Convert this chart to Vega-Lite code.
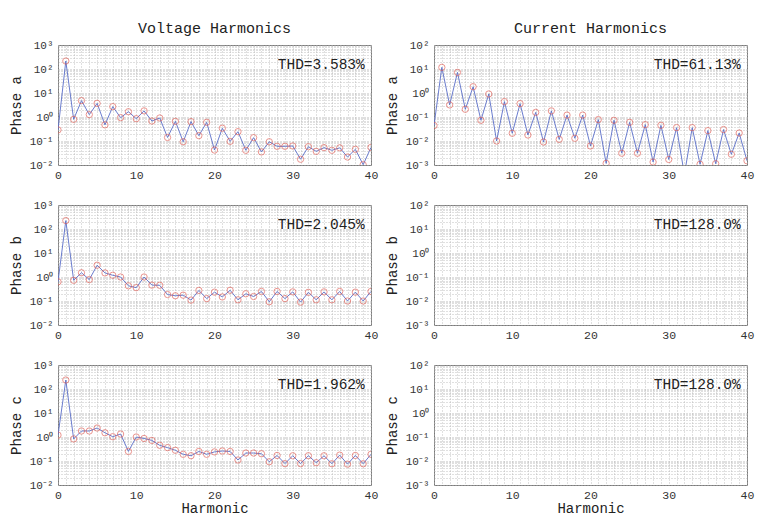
{
  "$schema": "https://vega.github.io/schema/vega-lite/v6.json",
  "background": "white",
  "padding": {"left": 8, "top": 20, "right": 8, "bottom": 8},
  "datasets": {
    "harm": [
      {"panel":"Va","h":0,"v":0.29},{"panel":"Va","h":1,"v":215},{"panel":"Va","h":2,"v":0.8},{"panel":"Va","h":3,"v":4.8},{"panel":"Va","h":4,"v":1.26},{"panel":"Va","h":5,"v":3.7},{"panel":"Va","h":6,"v":0.47},{"panel":"Va","h":7,"v":2.7},{"panel":"Va","h":8,"v":0.94},{"panel":"Va","h":9,"v":1.66},{"panel":"Va","h":10,"v":0.85},{"panel":"Va","h":11,"v":1.8},{"panel":"Va","h":12,"v":0.68},{"panel":"Va","h":13,"v":0.91},{"panel":"Va","h":14,"v":0.14},{"panel":"Va","h":15,"v":0.66},{"panel":"Va","h":16,"v":0.093},{"panel":"Va","h":17,"v":0.64},{"panel":"Va","h":18,"v":0.167},{"panel":"Va","h":19,"v":0.6},{"panel":"Va","h":20,"v":0.042},{"panel":"Va","h":21,"v":0.34},{"panel":"Va","h":22,"v":0.097},{"panel":"Va","h":23,"v":0.245},{"panel":"Va","h":24,"v":0.041},{"panel":"Va","h":25,"v":0.138},{"panel":"Va","h":26,"v":0.035},{"panel":"Va","h":27,"v":0.093},{"panel":"Va","h":28,"v":0.06},{"panel":"Va","h":29,"v":0.06},{"panel":"Va","h":30,"v":0.062},{"panel":"Va","h":31,"v":0.0174},{"panel":"Va","h":32,"v":0.058},{"panel":"Va","h":33,"v":0.037},{"panel":"Va","h":34,"v":0.053},{"panel":"Va","h":35,"v":0.041},{"panel":"Va","h":36,"v":0.052},{"panel":"Va","h":37,"v":0.0215},{"panel":"Va","h":38,"v":0.045},{"panel":"Va","h":39,"v":0.0103},{"panel":"Va","h":40,"v":0.054},
      {"panel":"Ia","h":0,"v":0.044},{"panel":"Ia","h":1,"v":11.7},{"panel":"Ia","h":2,"v":0.32},{"panel":"Ia","h":3,"v":7.2},{"panel":"Ia","h":4,"v":0.21},{"panel":"Ia","h":5,"v":1.83},{"panel":"Ia","h":6,"v":0.073},{"panel":"Ia","h":7,"v":0.91},{"panel":"Ia","h":8,"v":0.01},{"panel":"Ia","h":9,"v":0.44},{"panel":"Ia","h":10,"v":0.021},{"panel":"Ia","h":11,"v":0.36},{"panel":"Ia","h":12,"v":0.0178},{"panel":"Ia","h":13,"v":0.156},{"panel":"Ia","h":14,"v":0.0091},{"panel":"Ia","h":15,"v":0.18},{"panel":"Ia","h":16,"v":0.0117},{"panel":"Ia","h":17,"v":0.12},{"panel":"Ia","h":18,"v":0.013},{"panel":"Ia","h":19,"v":0.12},{"panel":"Ia","h":20,"v":0.0062},{"panel":"Ia","h":21,"v":0.078},{"panel":"Ia","h":22,"v":0.00117},{"panel":"Ia","h":23,"v":0.073},{"panel":"Ia","h":24,"v":0.0031},{"panel":"Ia","h":25,"v":0.06},{"panel":"Ia","h":26,"v":0.0031},{"panel":"Ia","h":27,"v":0.048},{"panel":"Ia","h":28,"v":0.00133},{"panel":"Ia","h":29,"v":0.045},{"panel":"Ia","h":30,"v":0.0017},{"panel":"Ia","h":31,"v":0.036},{"panel":"Ia","h":32,"v":0.0004},{"panel":"Ia","h":33,"v":0.036},{"panel":"Ia","h":34,"v":0.00107},{"panel":"Ia","h":35,"v":0.027},{"panel":"Ia","h":36,"v":0.00113},{"panel":"Ia","h":37,"v":0.03},{"panel":"Ia","h":38,"v":0.0028},{"panel":"Ia","h":39,"v":0.0215},{"panel":"Ia","h":40,"v":0.0015},
      {"panel":"Vb","h":0,"v":0.63},{"panel":"Vb","h":1,"v":224},{"panel":"Vb","h":2,"v":0.73},{"panel":"Vb","h":3,"v":1.5},{"panel":"Vb","h":4,"v":0.78},{"panel":"Vb","h":5,"v":3.1},{"panel":"Vb","h":6,"v":1.48},{"panel":"Vb","h":7,"v":1.18},{"panel":"Vb","h":8,"v":1.0},{"panel":"Vb","h":9,"v":0.43},{"panel":"Vb","h":10,"v":0.36},{"panel":"Vb","h":11,"v":1.0},{"panel":"Vb","h":12,"v":0.46},{"panel":"Vb","h":13,"v":0.45},{"panel":"Vb","h":14,"v":0.186},{"panel":"Vb","h":15,"v":0.165},{"panel":"Vb","h":16,"v":0.175},{"panel":"Vb","h":17,"v":0.109},{"panel":"Vb","h":18,"v":0.275},{"panel":"Vb","h":19,"v":0.126},{"panel":"Vb","h":20,"v":0.234},{"panel":"Vb","h":21,"v":0.148},{"panel":"Vb","h":22,"v":0.28},{"panel":"Vb","h":23,"v":0.112},{"panel":"Vb","h":24,"v":0.2},{"panel":"Vb","h":25,"v":0.154},{"panel":"Vb","h":26,"v":0.25},{"panel":"Vb","h":27,"v":0.093},{"panel":"Vb","h":28,"v":0.25},{"panel":"Vb","h":29,"v":0.126},{"panel":"Vb","h":30,"v":0.24},{"panel":"Vb","h":31,"v":0.09},{"panel":"Vb","h":32,"v":0.23},{"panel":"Vb","h":33,"v":0.112},{"panel":"Vb","h":34,"v":0.24},{"panel":"Vb","h":35,"v":0.112},{"panel":"Vb","h":36,"v":0.25},{"panel":"Vb","h":37,"v":0.1},{"panel":"Vb","h":38,"v":0.234},{"panel":"Vb","h":39,"v":0.1},{"panel":"Vb","h":40,"v":0.25},
      {"panel":"Vc","h":0,"v":1.2},{"panel":"Vc","h":1,"v":237},{"panel":"Vc","h":2,"v":0.83},{"panel":"Vc","h":3,"v":1.78},{"panel":"Vc","h":4,"v":1.78},{"panel":"Vc","h":5,"v":2.37},{"panel":"Vc","h":6,"v":1.5},{"panel":"Vc","h":7,"v":1.03},{"panel":"Vc","h":8,"v":1.33},{"panel":"Vc","h":9,"v":0.25},{"panel":"Vc","h":10,"v":1.0},{"panel":"Vc","h":11,"v":0.87},{"panel":"Vc","h":12,"v":0.72},{"panel":"Vc","h":13,"v":0.45},{"panel":"Vc","h":14,"v":0.36},{"panel":"Vc","h":15,"v":0.28},{"panel":"Vc","h":16,"v":0.19},{"panel":"Vc","h":17,"v":0.166},{"panel":"Vc","h":18,"v":0.25},{"panel":"Vc","h":19,"v":0.19},{"panel":"Vc","h":20,"v":0.24},{"panel":"Vc","h":21,"v":0.26},{"panel":"Vc","h":22,"v":0.25},{"panel":"Vc","h":23,"v":0.11},{"panel":"Vc","h":24,"v":0.215},{"panel":"Vc","h":25,"v":0.215},{"panel":"Vc","h":26,"v":0.2},{"panel":"Vc","h":27,"v":0.093},{"panel":"Vc","h":28,"v":0.17},{"panel":"Vc","h":29,"v":0.078},{"panel":"Vc","h":30,"v":0.165},{"panel":"Vc","h":31,"v":0.078},{"panel":"Vc","h":32,"v":0.166},{"panel":"Vc","h":33,"v":0.085},{"panel":"Vc","h":34,"v":0.165},{"panel":"Vc","h":35,"v":0.077},{"panel":"Vc","h":36,"v":0.176},{"panel":"Vc","h":37,"v":0.074},{"panel":"Vc","h":38,"v":0.17},{"panel":"Vc","h":39,"v":0.077},{"panel":"Vc","h":40,"v":0.19}
    ],
    "thd": [
      {"panel":"Va","label":"THD=3.583%"},
      {"panel":"Ia","label":"THD=61.13%"},
      {"panel":"Vb","label":"THD=2.045%"},
      {"panel":"Ib","label":"THD=128.0%"},
      {"panel":"Vc","label":"THD=1.962%"},
      {"panel":"Ic","label":"THD=128.0%"}
    ]
  },
  "bounds": "flush",
  "columns": 2,
  "spacing": {"row": 40, "column": 63},
  "concat": [
    {
      "width": 313, "height": 120,
      "title": {"text": "Voltage Harmonics"},
      "resolve": {"axis": {"x": "independent"}},
      "layer": [
        {"data": {"name": "thd"}, "transform": [{"filter": "datum.panel=='Va'"}],
         "mark": {"type": "text", "align": "right", "baseline": "middle", "font": "Liberation Mono", "fontSize": 14.5, "color": "#222"},
         "encoding": {
           "x": {"datum": 39.2, "type": "quantitative", "scale": {"domain": [0, 40], "nice": false}, "axis": {"title": null, "orient": "bottom", "grid": false, "values": [0,10,20,30,40]}},
           "y": {"datum": 150, "type": "quantitative", "scale": {"type": "log", "domain": [0.01, 1000], "nice": false}, "axis": {"title": "Phase a", "values": [0.01,0.02,0.03,0.04,0.05,0.06,0.07,0.08,0.09,0.1,0.2,0.3,0.4,0.5,0.6,0.7,0.8,0.9,1,2,3,4,5,6,7,8,9,10,20,30,40,50,60,70,80,90,100,200,300,400,500,600,700,800,900,1000]}},
           "text": {"field": "label"}}},
        {"data": {"name": "harm"}, "transform": [{"filter": "datum.panel=='Va'"}],
         "mark": {"type": "line", "color": "#5a6ec8", "strokeWidth": 0.9, "clip": true},
         "encoding": {"x": {"field": "h", "type": "quantitative", "axis": {"title": null, "orient": "bottom", "labels": false, "grid": true, "values": [0,1,2,3,4,5,6,7,8,9,10,11,12,13,14,15,16,17,18,19,20,21,22,23,24,25,26,27,28,29,30,31,32,33,34,35,36,37,38,39,40]}}, "y": {"field": "v", "type": "quantitative"}}},
        {"data": {"name": "harm"}, "transform": [{"filter": "datum.panel=='Va'"}],
         "mark": {"type": "point", "shape": "circle", "filled": false, "color": "#e0584f", "size": 40, "strokeWidth": 0.9, "clip": true},
         "encoding": {"x": {"field": "h", "type": "quantitative", "axis": null}, "y": {"field": "v", "type": "quantitative"}}}
      ]
    },
    {
      "width": 313, "height": 120,
      "title": {"text": "Current Harmonics"},
      "resolve": {"axis": {"x": "independent"}},
      "layer": [
        {"data": {"name": "thd"}, "transform": [{"filter": "datum.panel=='Ia'"}],
         "mark": {"type": "text", "align": "right", "baseline": "middle", "font": "Liberation Mono", "fontSize": 14.5, "color": "#222"},
         "encoding": {
           "x": {"datum": 39.2, "type": "quantitative", "scale": {"domain": [0, 40], "nice": false}, "axis": {"title": null, "orient": "bottom", "grid": false, "values": [0,10,20,30,40]}},
           "y": {"datum": 15, "type": "quantitative", "scale": {"type": "log", "domain": [0.001, 100], "nice": false}, "axis": {"title": "Phase a", "values": [0.001,0.002,0.003,0.004,0.005,0.006,0.007,0.008,0.009,0.01,0.02,0.03,0.04,0.05,0.06,0.07,0.08,0.09,0.1,0.2,0.3,0.4,0.5,0.6,0.7,0.8,0.9,1,2,3,4,5,6,7,8,9,10,20,30,40,50,60,70,80,90,100]}},
           "text": {"field": "label"}}},
        {"data": {"name": "harm"}, "transform": [{"filter": "datum.panel=='Ia'"}],
         "mark": {"type": "line", "color": "#5a6ec8", "strokeWidth": 0.9, "clip": true},
         "encoding": {"x": {"field": "h", "type": "quantitative", "axis": {"title": null, "orient": "bottom", "labels": false, "grid": true, "values": [0,1,2,3,4,5,6,7,8,9,10,11,12,13,14,15,16,17,18,19,20,21,22,23,24,25,26,27,28,29,30,31,32,33,34,35,36,37,38,39,40]}}, "y": {"field": "v", "type": "quantitative"}}},
        {"data": {"name": "harm"}, "transform": [{"filter": "datum.panel=='Ia'"}],
         "mark": {"type": "point", "shape": "circle", "filled": false, "color": "#e0584f", "size": 40, "strokeWidth": 0.9, "clip": true},
         "encoding": {"x": {"field": "h", "type": "quantitative", "axis": null}, "y": {"field": "v", "type": "quantitative"}}}
      ]
    },
    {
      "width": 313, "height": 120,
      "resolve": {"axis": {"x": "independent"}},
      "layer": [
        {"data": {"name": "thd"}, "transform": [{"filter": "datum.panel=='Vb'"}],
         "mark": {"type": "text", "align": "right", "baseline": "middle", "font": "Liberation Mono", "fontSize": 14.5, "color": "#222"},
         "encoding": {
           "x": {"datum": 39.2, "type": "quantitative", "scale": {"domain": [0, 40], "nice": false}, "axis": {"title": null, "orient": "bottom", "grid": false, "values": [0,10,20,30,40]}},
           "y": {"datum": 150, "type": "quantitative", "scale": {"type": "log", "domain": [0.01, 1000], "nice": false}, "axis": {"title": "Phase b", "values": [0.01,0.02,0.03,0.04,0.05,0.06,0.07,0.08,0.09,0.1,0.2,0.3,0.4,0.5,0.6,0.7,0.8,0.9,1,2,3,4,5,6,7,8,9,10,20,30,40,50,60,70,80,90,100,200,300,400,500,600,700,800,900,1000]}},
           "text": {"field": "label"}}},
        {"data": {"name": "harm"}, "transform": [{"filter": "datum.panel=='Vb'"}],
         "mark": {"type": "line", "color": "#5a6ec8", "strokeWidth": 0.9, "clip": true},
         "encoding": {"x": {"field": "h", "type": "quantitative", "axis": {"title": null, "orient": "bottom", "labels": false, "grid": true, "values": [0,1,2,3,4,5,6,7,8,9,10,11,12,13,14,15,16,17,18,19,20,21,22,23,24,25,26,27,28,29,30,31,32,33,34,35,36,37,38,39,40]}}, "y": {"field": "v", "type": "quantitative"}}},
        {"data": {"name": "harm"}, "transform": [{"filter": "datum.panel=='Vb'"}],
         "mark": {"type": "point", "shape": "circle", "filled": false, "color": "#e0584f", "size": 40, "strokeWidth": 0.9, "clip": true},
         "encoding": {"x": {"field": "h", "type": "quantitative", "axis": null}, "y": {"field": "v", "type": "quantitative"}}}
      ]
    },
    {
      "width": 313, "height": 120,
      "layer": [
        {"data": {"name": "thd"}, "transform": [{"filter": "datum.panel=='Ib'"}],
         "mark": {"type": "text", "align": "right", "baseline": "middle", "font": "Liberation Mono", "fontSize": 14.5, "color": "#222"},
         "encoding": {
           "x": {"datum": 39.2, "type": "quantitative", "scale": {"domain": [0, 40], "nice": false}, "axis": {"title": null, "labelExpr": "datum.value % 10 == 0 ? datum.label : ''", "values": [0,1,2,3,4,5,6,7,8,9,10,11,12,13,14,15,16,17,18,19,20,21,22,23,24,25,26,27,28,29,30,31,32,33,34,35,36,37,38,39,40]}},
           "y": {"datum": 15, "type": "quantitative", "scale": {"type": "log", "domain": [0.001, 100], "nice": false}, "axis": {"title": "Phase b", "values": [0.001,0.002,0.003,0.004,0.005,0.006,0.007,0.008,0.009,0.01,0.02,0.03,0.04,0.05,0.06,0.07,0.08,0.09,0.1,0.2,0.3,0.4,0.5,0.6,0.7,0.8,0.9,1,2,3,4,5,6,7,8,9,10,20,30,40,50,60,70,80,90,100]}},
           "text": {"field": "label"}}}
      ]
    },
    {
      "width": 313, "height": 120,
      "resolve": {"axis": {"x": "independent"}},
      "layer": [
        {"data": {"name": "thd"}, "transform": [{"filter": "datum.panel=='Vc'"}],
         "mark": {"type": "text", "align": "right", "baseline": "middle", "font": "Liberation Mono", "fontSize": 14.5, "color": "#222"},
         "encoding": {
           "x": {"datum": 39.2, "type": "quantitative", "scale": {"domain": [0, 40], "nice": false}, "axis": {"title": "Harmonic", "orient": "bottom", "grid": false, "values": [0,10,20,30,40]}},
           "y": {"datum": 150, "type": "quantitative", "scale": {"type": "log", "domain": [0.01, 1000], "nice": false}, "axis": {"title": "Phase c", "values": [0.01,0.02,0.03,0.04,0.05,0.06,0.07,0.08,0.09,0.1,0.2,0.3,0.4,0.5,0.6,0.7,0.8,0.9,1,2,3,4,5,6,7,8,9,10,20,30,40,50,60,70,80,90,100,200,300,400,500,600,700,800,900,1000]}},
           "text": {"field": "label"}}},
        {"data": {"name": "harm"}, "transform": [{"filter": "datum.panel=='Vc'"}],
         "mark": {"type": "line", "color": "#5a6ec8", "strokeWidth": 0.9, "clip": true},
         "encoding": {"x": {"field": "h", "type": "quantitative", "axis": {"title": null, "orient": "bottom", "labels": false, "grid": true, "values": [0,1,2,3,4,5,6,7,8,9,10,11,12,13,14,15,16,17,18,19,20,21,22,23,24,25,26,27,28,29,30,31,32,33,34,35,36,37,38,39,40]}}, "y": {"field": "v", "type": "quantitative"}}},
        {"data": {"name": "harm"}, "transform": [{"filter": "datum.panel=='Vc'"}],
         "mark": {"type": "point", "shape": "circle", "filled": false, "color": "#e0584f", "size": 40, "strokeWidth": 0.9, "clip": true},
         "encoding": {"x": {"field": "h", "type": "quantitative", "axis": null}, "y": {"field": "v", "type": "quantitative"}}}
      ]
    },
    {
      "width": 313, "height": 120,
      "layer": [
        {"data": {"name": "thd"}, "transform": [{"filter": "datum.panel=='Ic'"}],
         "mark": {"type": "text", "align": "right", "baseline": "middle", "font": "Liberation Mono", "fontSize": 14.5, "color": "#222"},
         "encoding": {
           "x": {"datum": 39.2, "type": "quantitative", "scale": {"domain": [0, 40], "nice": false}, "axis": {"title": "Harmonic", "labelExpr": "datum.value % 10 == 0 ? datum.label : ''", "values": [0,1,2,3,4,5,6,7,8,9,10,11,12,13,14,15,16,17,18,19,20,21,22,23,24,25,26,27,28,29,30,31,32,33,34,35,36,37,38,39,40]}},
           "y": {"datum": 15, "type": "quantitative", "scale": {"type": "log", "domain": [0.001, 100], "nice": false}, "axis": {"title": "Phase c", "values": [0.001,0.002,0.003,0.004,0.005,0.006,0.007,0.008,0.009,0.01,0.02,0.03,0.04,0.05,0.06,0.07,0.08,0.09,0.1,0.2,0.3,0.4,0.5,0.6,0.7,0.8,0.9,1,2,3,4,5,6,7,8,9,10,20,30,40,50,60,70,80,90,100]}},
           "text": {"field": "label"}}}
      ]
    }
  ],
  "config": {
    "font": "Liberation Mono",
    "view": {"stroke": "#7a7a7a", "strokeWidth": 1},
    "title": {"font": "Liberation Mono", "fontSize": 15, "fontWeight": "normal", "color": "#222", "offset": 3, "anchor": "middle"},
    "axis": {
      "domain": false,
      "ticks": false,
      "grid": true,
      "gridColor": "#b0b0b0",
      "gridDash": [1, 2],
      "gridWidth": 0.8,
      "labelFont": "Liberation Mono",
      "labelColor": "#333",
      "labelFontSize": 11.5,
      "labelOverlap": false,
      "titleFont": "Liberation Mono",
      "titleFontWeight": "normal",
      "titleColor": "#222",
      "titleFontSize": 14
    },
    "axisX": {
      "labelPadding": 4,
      "labelFlush": false,
      "titlePadding": 1,
      "labelOverlap": false
    },
    "axisY": {
      "labelPadding": 5,
      "titlePadding": 6,
      "labelOverlap": false,
      "labelFontSize": 11,
      "labelBaseline": "middle",
      "labelExpr": "abs(log(datum.value)/LN10 - round(log(datum.value)/LN10)) < 0.001 ? '10' + ['⁻³','⁻²','⁻¹','⁰','¹','²','³'][round(log(datum.value)/LN10) + 3] : ''"
    }
  }
}
